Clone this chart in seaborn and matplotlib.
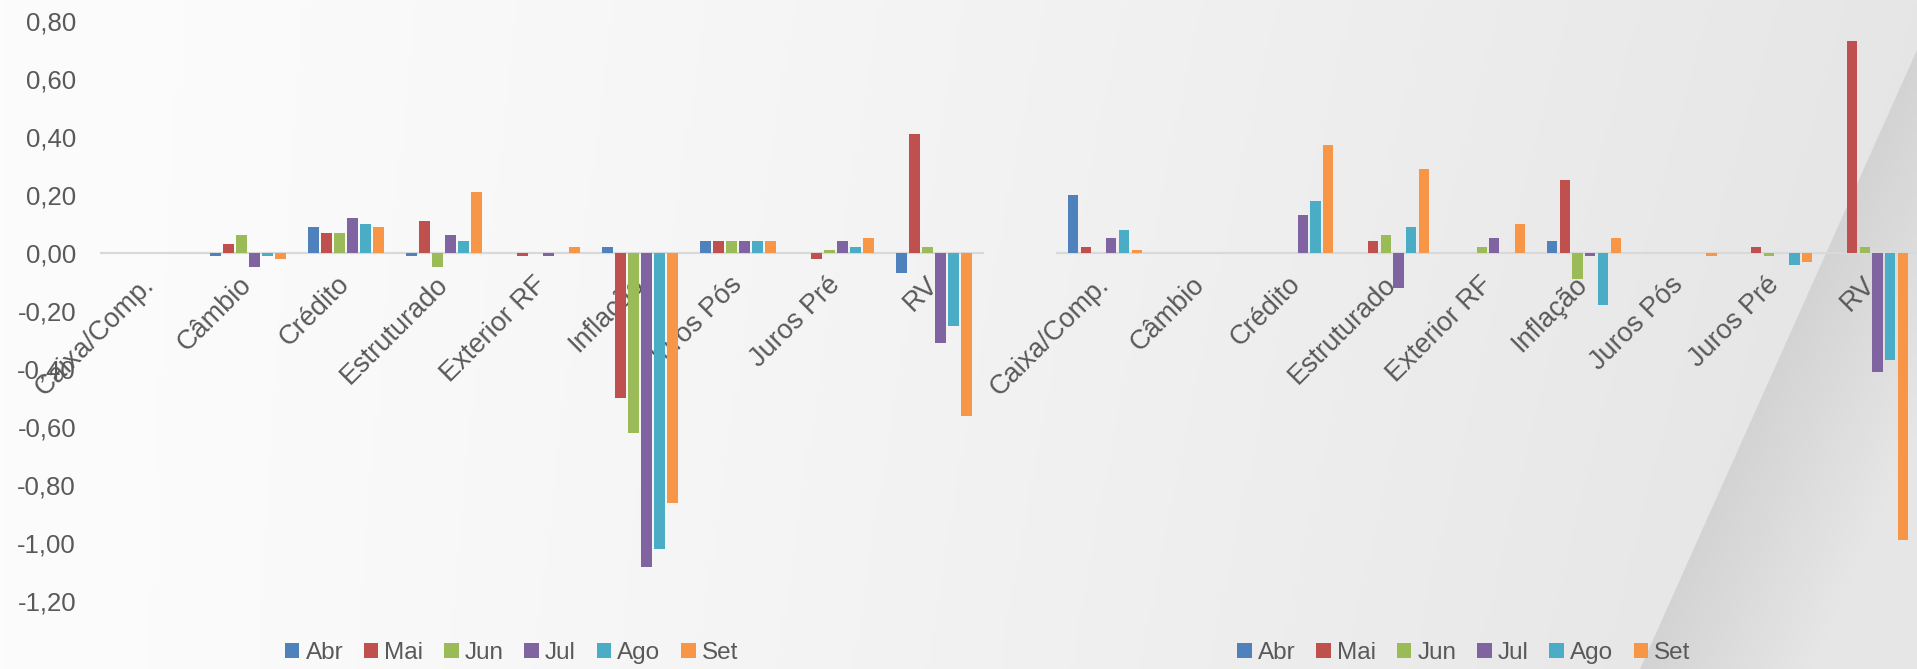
import numpy as np
import pandas as pd
import matplotlib
matplotlib.use("Agg")
import matplotlib.pyplot as plt
from matplotlib.patches import Patch, Polygon
from matplotlib.ticker import FuncFormatter, FixedLocator
import seaborn as sns

# ---------------- data ----------------
categorias = ["Caixa/Comp.", "Câmbio", "Crédito", "Estruturado", "Exterior RF",
              "Inflação", "Juros Pós", "Juros Pré", "RV"]
meses = ["Abr", "Mai", "Jun", "Jul", "Ago", "Set"]
cores = ["#4F81BD", "#C0504D", "#9BBB59", "#8064A2", "#4BACC6", "#F79646"]

# left chart (values per month, one entry per category)
esq_abr = [0.00, -0.01, 0.09, -0.01, 0.00, 0.02, 0.04, 0.00, -0.07]
esq_mai = [0.00, 0.03, 0.07, 0.11, -0.01, -0.50, 0.04, -0.02, 0.41]
esq_jun = [0.00, 0.06, 0.07, -0.05, 0.00, -0.62, 0.04, 0.01, 0.02]
esq_jul = [0.00, -0.05, 0.12, 0.06, -0.01, -1.08, 0.04, 0.04, -0.31]
esq_ago = [0.00, -0.01, 0.10, 0.04, 0.00, -1.02, 0.04, 0.02, -0.25]
esq_set = [0.00, -0.02, 0.09, 0.21, 0.02, -0.86, 0.04, 0.05, -0.56]

# right chart
dir_abr = [0.20, 0.00, 0.00, 0.00, 0.00, 0.04, 0.00, 0.00, 0.00]
dir_mai = [0.02, 0.00, 0.00, 0.04, 0.00, 0.25, 0.00, 0.02, 0.73]
dir_jun = [0.00, 0.00, 0.00, 0.06, 0.02, -0.09, 0.00, -0.01, 0.02]
dir_jul = [0.05, 0.00, 0.13, -0.12, 0.05, -0.01, 0.00, 0.00, -0.41]
dir_ago = [0.08, 0.00, 0.18, 0.09, 0.00, -0.18, 0.00, -0.04, -0.37]
dir_set = [0.01, 0.00, 0.37, 0.29, 0.10, 0.05, -0.01, -0.03, -0.99]

y_ticks = [0.80, 0.60, 0.40, 0.20, 0.00, -0.20, -0.40, -0.60, -0.80, -1.00, -1.20]


def to_long(series):
    rows = []
    for mes, vals in zip(meses, series):
        for cat, v in zip(categorias, vals):
            rows.append({"cat": cat, "mes": mes, "val": v})
    return pd.DataFrame(rows)


df_esq = to_long([esq_abr, esq_mai, esq_jun, esq_jul, esq_ago, esq_set])
df_dir = to_long([dir_abr, dir_mai, dir_jun, dir_jul, dir_ago, dir_set])

# ---------------- style ----------------
sns.set_theme(style="white")
plt.rcParams["font.family"] = ["Liberation Sans", "DejaVu Sans"]
txt_color = "#595959"

W, H = 1917, 669
fig = plt.figure(figsize=(W / 100, H / 100), dpi=100)

# background (decoration)
bg = fig.add_axes([0, 0, 1, 1], zorder=-10)
xx, yy = np.meshgrid(np.linspace(0, 1, 400), np.linspace(0, 1, 140))
base = 252 - 22 * xx ** 1.3 - 3 * yy * xx
img = np.dstack([base, base, base]) / 255.0
bg.imshow(img, extent=[0, W, H, 0], aspect="auto")
# darker diagonal swoosh bottom-right
px, py = np.meshgrid(np.linspace(0, W, 400), np.linspace(0, H, 140))
x1, y1, x2, y2 = 1640, 669, 1917, 50
d = ((px - x1) * (y2 - y1) - (py - y1) * (x2 - x1)) / np.hypot(x2 - x1, y2 - y1)
shade = np.clip(211 + 0.12 * (-d) + 0.02 * (669 - py) * 0, 211, 230)
wimg = np.dstack([shade, shade, shade]) / 255.0
im = bg.imshow(wimg, extent=[0, W, H, 0], aspect="auto")
poly = Polygon([[x1, y1], [x2, y2], [W, H]], closed=True, transform=bg.transData)
im.set_clip_path(poly)
bg.set_xlim(0, W)
bg.set_ylim(H, 0)
bg.axis("off")

ax_l = fig.add_axes([101 / W, 1 - 601.5 / H, 882 / W, (601.5 - 20.5) / H])
ax_r = fig.add_axes([1057 / W, 1 - 601.5 / H, 862 / W, (601.5 - 20.5) / H])

for ax, df in [(ax_l, df_esq), (ax_r, df_dir)]:
    sns.barplot(data=df, x="cat", y="val", hue="mes", order=categorias,
                hue_order=meses, palette=cores, saturation=1, width=0.8, gap=0.2,
                errorbar=None, legend=False, linewidth=0, ax=ax)
    ax.set_facecolor("none")
    ax.set_ylim(-1.2, 0.8)
    ax.set_xlim(-0.5, len(categorias) - 0.5)
    for s in ["top", "right", "left"]:
        ax.spines[s].set_visible(False)
    ax.spines["bottom"].set_position(("data", 0))
    ax.spines["bottom"].set_color("#D9D9D9")
    ax.spines["bottom"].set_linewidth(1.6)
    ax.spines["bottom"].set_zorder(0.5)
    ax.set_xlabel("")
    ax.set_ylabel("")
    ax.tick_params(axis="x", length=0, pad=20, labelsize=19.5, labelcolor=txt_color)
    ax.tick_params(axis="y", length=0, pad=18, labelsize=18.5, labelcolor=txt_color)
    for lab in ax.get_xticklabels():
        lab.set_rotation(45)
        lab.set_ha("right")
        lab.set_va("center")
        lab.set_rotation_mode("anchor")
    ax.yaxis.set_major_locator(FixedLocator(y_ticks))
    ax.yaxis.set_major_formatter(FuncFormatter(
        lambda v, p: f"{v:.2f}".replace("-0.00", "0.00").replace(".", ",")))
    ax.grid(False)

ax_r.tick_params(axis="y", labelleft=False)

handles = [Patch(facecolor=c, edgecolor="none") for c in cores]
for cx in [511.5 / W, 1464 / W]:
    fig.legend(handles, meses, loc="center", bbox_to_anchor=(cx, 1 - 653 / H),
               bbox_transform=fig.transFigure, ncol=6, frameon=False,
               fontsize=17.5, labelcolor=txt_color, handlelength=0.6,
               handleheight=0.6, handletextpad=0.25, columnspacing=0.85)

fig.savefig("out.png", dpi=100)
